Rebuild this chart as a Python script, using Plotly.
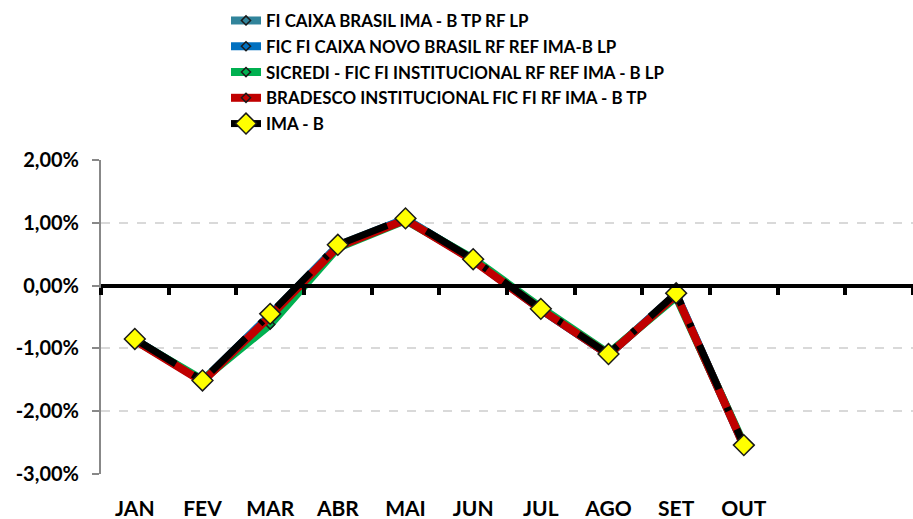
import plotly.graph_objects as go

months = ["JAN", "FEV", "MAR", "ABR", "MAI", "JUN", "JUL", "AGO", "SET", "OUT", "", ""]
caixa_ima_b = [-0.86, -1.52, -0.47, 0.64, 1.06, 0.41, -0.38, -1.10, -0.14, -2.55]
caixa_novo = [-0.86, -1.52, -0.47, 0.63, 1.06, 0.41, -0.38, -1.10, -0.14, -2.55]
sicredi = [-0.87, -1.50, -0.62, 0.60, 1.04, 0.43, -0.35, -1.08, -0.18, -2.52]
bradesco = [-0.87, -1.53, -0.49, 0.62, 1.05, 0.40, -0.38, -1.10, -0.15, -2.55]
ima_b = [-0.85, -1.51, -0.45, 0.65, 1.07, 0.42, -0.37, -1.09, -0.12, -2.54]

series_names = [
    "FI CAIXA BRASIL IMA - B TP RF LP",
    "FIC FI CAIXA NOVO BRASIL RF REF IMA-B LP",
    "SICREDI - FIC FI INSTITUCIONAL RF REF IMA - B LP",
    "BRADESCO INSTITUCIONAL FIC FI RF IMA - B TP",
    "IMA - B",
]
series_colors = ["#31849B", "#0070C0", "#00B050", "#C00000", "#000000"]

y_tickvals = [2, 1, 0, -1, -2, -3]
y_ticktext = ["2,00%", "1,00%", "0,00%", "-1,00%", "-2,00%", "-3,00%"]

FONT = "Lato"

fig = go.Figure()
x_idx = list(range(len(ima_b)))

for i, (name, vals, col) in enumerate(zip(series_names[:4], [caixa_ima_b, caixa_novo, sicredi, bradesco], series_colors[:4])):
    fig.add_trace(go.Scatter(
        x=x_idx, y=vals, name=name, mode="lines+markers", legendgroup=f"g{i}",
        line=dict(color=col, width=8),
        marker=dict(symbol="diamond", size=7, color=col, line=dict(color="#1a1a1a", width=1.5)),
    ))

fig.add_trace(go.Scatter(
    x=x_idx, y=ima_b, name=series_names[4], mode="lines+markers", legendgroup="g4",
    line=dict(color="#000000", width=7, dash="48px,20px,4px,20px"),
    marker=dict(symbol="diamond", size=16, color="#FFFF00", line=dict(color="#1a1a1a", width=1.5)),
))

# helper axis for boundary tick marks on zero line
fig.add_trace(go.Scatter(x=[-0.5, 11.5], y=[0, 0], xaxis="x2", mode="lines",
                         line=dict(color="rgba(0,0,0,0)"), showlegend=False, hoverinfo="skip"))

fig.update_layout(
    width=913, height=519,
    margin=dict(l=101, r=0, t=160, b=45, autoexpand=False),
    paper_bgcolor="white", plot_bgcolor="white",
    font=dict(family=FONT, color="#000000", weight="bold"),
    showlegend=True,
    legend=dict(
        x=(226 - 101) / 812, y=1 + (160 - 3) / 314, xanchor="left", yanchor="top",
        font=dict(family=FONT, size=16.9, weight="bold", color="#000000"),
        bgcolor="rgba(0,0,0,0)", tracegroupgap=0.8,
    ),
    xaxis=dict(
        range=[-0.5, 11.5], tickmode="array", tickvals=list(range(12)), ticktext=months,
        showgrid=False, zeroline=False, showline=False, ticks="",
        tickfont=dict(family=FONT, size=21, weight="bold"), ticklabelstandoff=20,
    ),
    xaxis2=dict(
        range=[-0.5, 11.5], overlaying="x", anchor="free", position=0.6,
        tickmode="array", tickvals=[i - 0.5 for i in range(13)], ticks="outside",
        ticklen=7, tickwidth=4, tickcolor="#000000", showticklabels=False,
        showline=True, linecolor="#000000", linewidth=4, showgrid=False, zeroline=False,
    ),
    yaxis=dict(
        range=[-3, 2], tickmode="array", tickvals=y_tickvals, ticktext=y_ticktext,
        showgrid=True, gridcolor="#D9D9D9", griddash="dash", gridwidth=1.5,
        zeroline=False, showline=True, linecolor="#888888", linewidth=2,
        ticks="outside", ticklen=7, tickcolor="#888888", tickwidth=2,
        tickfont=dict(family=FONT, size=20, weight="bold"), ticklabelstandoff=9,
    ),
)

fig.write_html("out.html", config={"displayModeBar": False},
               post_script="document.body.style.margin='0';")
